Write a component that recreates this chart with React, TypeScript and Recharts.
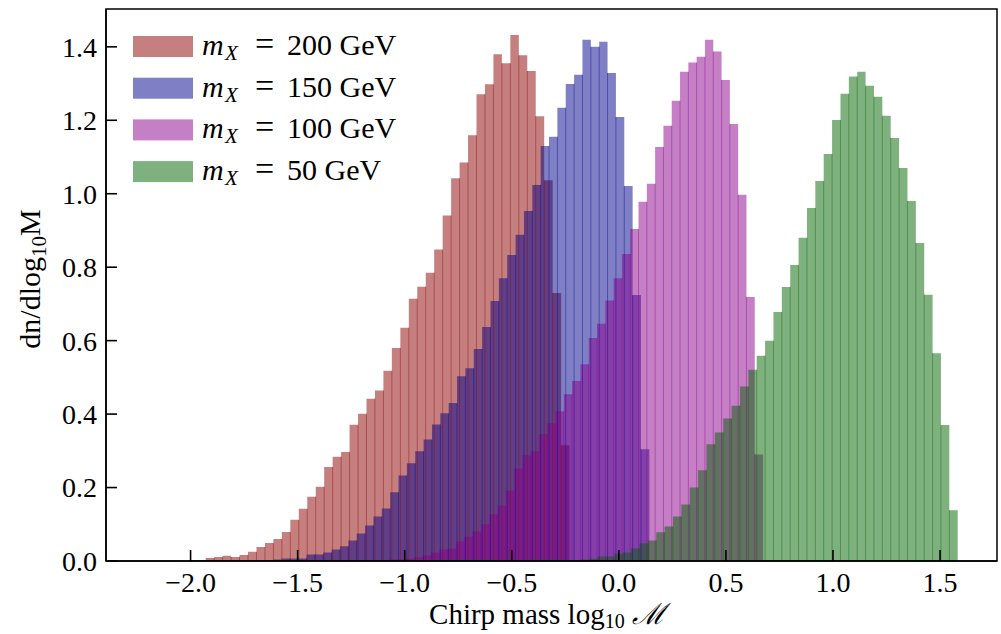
import React from 'react';
import { ComposedChart, Area, XAxis, YAxis, ReferenceArea, ReferenceLine } from 'recharts';

// Histogram bin ranges [first edge, last edge] (50 equal bins each) and bar heights
const redRange = [-2.206, -0.23];
const redHeights = [
  0, 0, 0, 0, 0, 0.003, 0.003, 0.008, 0.011, 0.014,
  0.011, 0.016, 0.025, 0.038, 0.049, 0.06, 0.079, 0.112, 0.142, 0.175,
  0.202, 0.256, 0.284, 0.297, 0.371, 0.401, 0.442, 0.464, 0.518, 0.58,
  0.635, 0.714, 0.747, 0.785, 0.848, 0.941, 1.042, 1.085, 1.159, 1.271,
  1.298, 1.38, 1.355, 1.432, 1.377, 1.334, 1.211, 1.037, 0.73, 0.315,
];

const blueRange = [-1.81, 0.1425];
const blueHeights = [
  0, 0, 0.001, 0.002, 0.002, 0.004, 0.007, 0.007, 0.007, 0.018,
  0.018, 0.023, 0.031, 0.04, 0.056, 0.075, 0.097, 0.121, 0.143, 0.187,
  0.233, 0.266, 0.299, 0.331, 0.372, 0.402, 0.43, 0.503, 0.525, 0.577,
  0.637, 0.708, 0.77, 0.833, 0.888, 0.953, 1.024, 1.13, 1.155, 1.234,
  1.299, 1.324, 1.419, 1.4, 1.414, 1.329, 1.209, 1.021, 0.724, 0.304,
];

const magentaRange = [-1.265, 0.6735];
const magentaHeights = [
  0, 0.001, 0.002, 0.003, 0.003, 0.004, 0.005, 0.007, 0.01, 0.015,
  0.023, 0.031, 0.034, 0.053, 0.067, 0.08, 0.1, 0.127, 0.151, 0.192,
  0.252, 0.288, 0.299, 0.345, 0.375, 0.408, 0.454, 0.49, 0.536, 0.607,
  0.646, 0.709, 0.77, 0.836, 0.904, 0.978, 1.027, 1.127, 1.185, 1.253,
  1.332, 1.357, 1.373, 1.419, 1.387, 1.31, 1.19, 0.997, 0.719, 0.29,
];

const greenRange = [-0.373, 1.5825];
const greenHeights = [
  0, 0.001, 0.002, 0.002, 0.003, 0.004, 0.006, 0.012, 0.012, 0.02,
  0.023, 0.034, 0.048, 0.056, 0.078, 0.094, 0.121, 0.154, 0.2, 0.247,
  0.318, 0.35, 0.388, 0.423, 0.475, 0.521, 0.559, 0.6, 0.678, 0.746,
  0.806, 0.88, 0.961, 1.035, 1.108, 1.201, 1.272, 1.319, 1.332, 1.294,
  1.264, 1.212, 1.152, 1.07, 0.98, 0.866, 0.725, 0.566, 0.37, 0.138,
];

const seriesLabels = ['200', '150', '100', '50'];
const xTicks = [-2.0, -1.5, -1.0, -0.5, 0.0, 0.5, 1.0, 1.5];
const yTicks = [0, 0.2, 0.4, 0.6, 0.8, 1.0, 1.2, 1.4];
const xDomain = [-2.395, 1.766];
const yDomain = [0, 1.503];

const FONT = '"Liberation Serif", "DejaVu Serif", serif';

const series = [
  { key: 'r200', label: seriesLabels[0], color: '#8B0000', range: redRange, heights: redHeights },
  { key: 'r150', label: seriesLabels[1], color: '#00008B', range: blueRange, heights: blueHeights },
  { key: 'r100', label: seriesLabels[2], color: '#8B008B', range: magentaRange, heights: magentaHeights },
  { key: 'r50', label: seriesLabels[3], color: '#006400', range: greenRange, heights: greenHeights },
];

// Build one table: each series contributes a row per bin edge (step-after histogram)
const rows: Record<string, number>[] = [];
// Inner bin edges (shared by two adjacent bars) for the thin bar-edge lines
const seams: { key: string; color: string; x: number; h: number }[] = [];
series.forEach((s) => {
  const n = s.heights.length;
  const w = (s.range[1] - s.range[0]) / n;
  for (let i = 0; i <= n; i++) {
    rows.push({ x: s.range[0] + i * w, [s.key]: s.heights[Math.min(i, n - 1)] });
    if (i > 0 && i < n) {
      const h = Math.min(s.heights[i - 1], s.heights[i]);
      if (h > 0.004) seams.push({ key: `${s.key}-${i}`, color: s.color, x: s.range[0] + i * w, h });
    }
  }
});
rows.sort((a, b) => a.x - b.x);

const fmt = (v: number) => (v < 0 ? '\u2212' + Math.abs(v).toFixed(1) : v.toFixed(1));

const YLabel = () => (
  <text
    transform="translate(40,279) rotate(-90)"
    textAnchor="middle"
    fontSize={30}
    fontFamily={FONT}
    fill="#000"
  >
    dn/dlog
    <tspan fontSize={21} dy={6}>10</tspan>
    <tspan dy={-6}>M</tspan>
  </text>
);

const XLabel = () => (
  <text x={547} y={624} textAnchor="middle" fontSize={29} fontFamily={FONT} fill="#000">
    Chirp mass log
    <tspan fontSize={20} dy={4}>10</tspan>
    <tspan dy={-4} fontStyle="italic"> {'\u2133'}</tspan>
  </text>
);

const LegendBox = () => (
  <svg width={300} height={180} style={{ position: 'absolute', left: 130, top: 20 }}>
    {series.map((s, i) => {
      const y0 = 16 + i * 41.7;
      return (
        <g key={s.key}>
          <rect x={3} y={y0} width={60} height={21} fill={s.color} fillOpacity={0.5} />
          <text y={y0 + 19} fontSize={30} fontFamily={FONT} fill="#000">
            <tspan x={72} fontStyle="italic">m</tspan>
            <tspan x={95} fontStyle="italic" fontSize={21} dy={5}>X</tspan>
            <tspan x={125} dy={-5} fontSize={34}>=</tspan>
            <tspan x={157}>{s.label} GeV</tspan>
          </text>
        </g>
      );
    })}
  </svg>
);

export default function App() {
  return (
    <div style={{ position: 'absolute', left: 0, top: 0, width: 1001, height: 634, background: '#fff' }}>
      <ComposedChart
        width={1001}
        height={634}
        data={rows}
        margin={{ top: 9, right: 4, bottom: 0, left: 0 }}
      >
        {series.map((s) => (
          <Area
            key={s.key}
            type="stepAfter"
            dataKey={s.key}
            connectNulls
            fill={s.color}
            fillOpacity={0.5}
            stroke="none"
            baseValue={0}
            isAnimationActive={false}
            dot={false}
            activeDot={false}
          />
        ))}
        {seams.map((e) => (
          <ReferenceLine
            key={e.key}
            segment={[{ x: e.x, y: 0 }, { x: e.x, y: e.h }]}
            stroke={e.color}
            strokeOpacity={0.4}
            strokeWidth={1}
          />
        ))}
        <XAxis
          dataKey="x"
          type="number"
          domain={xDomain}
          allowDataOverflow
          ticks={xTicks}
          interval={0}
          tickFormatter={fmt}
          tickSize={-11}
          tickMargin={22}
          height={73}
          axisLine={{ stroke: '#000', strokeWidth: 1.5 }}
          tickLine={{ stroke: '#000', strokeWidth: 1.6 }}
          tick={{ fill: '#000', fontSize: 28, fontFamily: FONT }}
          label={{ content: () => <XLabel /> }}
        />
        <YAxis
          type="number"
          domain={yDomain}
          allowDataOverflow
          ticks={yTicks}
          interval={0}
          tickFormatter={(v: number) => v.toFixed(1)}
          tickSize={-11}
          tickMargin={20}
          width={106}
          axisLine={{ stroke: '#000', strokeWidth: 1.5 }}
          tickLine={{ stroke: '#000', strokeWidth: 1.6 }}
          tick={{ fill: '#000', fontSize: 28, fontFamily: FONT }}
          label={{ content: () => <YLabel /> }}
        />
        <ReferenceArea
          x1={xDomain[0]}
          x2={xDomain[1]}
          y1={yDomain[0]}
          y2={yDomain[1]}
          fill="none"
          stroke="#000"
          strokeWidth={1.5}
          ifOverflow="visible"
        />
      </ComposedChart>
      <LegendBox />
    </div>
  );
}
